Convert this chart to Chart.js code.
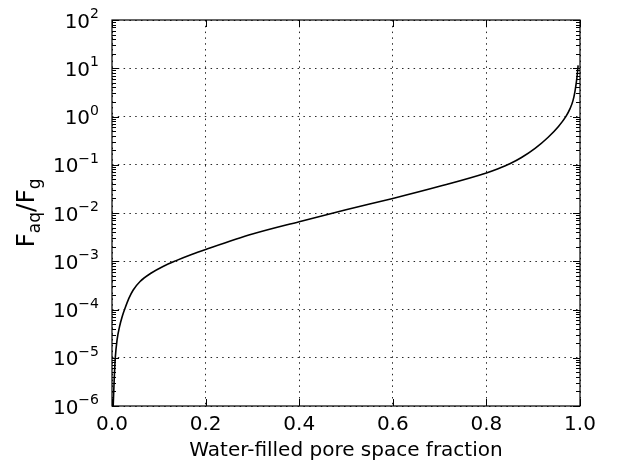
<!DOCTYPE html>
<html>
<head>
<meta charset="utf-8">
<script src="https://cdn.jsdelivr.net/npm/chart.js@4/dist/chart.umd.min.js"></script>
<style>
  html, body { margin: 0; padding: 0; background: #ffffff; }
  #wrap { width: 617px; height: 464px; }
</style>
</head>
<body>
<div id="wrap"><canvas id="c" width="617" height="464"></canvas></div>
<script>
// ---- data ----
const waterFraction = [0.0015, 0.0025, 0.0045, 0.007, 0.011, 0.016, 0.022, 0.028, 0.036, 0.045, 0.06, 0.084, 0.11, 0.137, 0.17, 0.2, 0.3, 0.4, 0.5, 0.6, 0.7, 0.8, 0.825, 0.85, 0.875, 0.904, 0.932, 0.954, 0.97, 0.979, 0.985, 0.989, 0.992, 0.994, 0.996];
const fluxRatio = [5.0e-7, 1.0e-6, 3.16e-6, 1.0e-5, 2.40e-5, 4.37e-5, 7.24e-5, 1.07e-4, 1.70e-4, 2.51e-4, 3.80e-4, 5.70e-4, 7.89e-4, 1.03e-3, 1.38e-3, 1.75e-3, 3.66e-3, 6.61e-3, 1.17e-2, 2.00e-2, 3.57e-2, 6.76e-2, 8.26e-2, 0.1045, 0.141, 0.218, 0.371, 0.621, 1.005, 1.47, 2.13, 3.21, 4.96, 7.16, 11.5];

const xTickValues = [0, 0.2, 0.4, 0.6, 0.8, 1.0];
const xTickLabels = ['0.0', '0.2', '0.4', '0.6', '0.8', '1.0'];
const yTickExponents = [-6, -5, -4, -3, -2, -1, 0, 1, 2];
const yTickBase = '10';
const xTitle = 'Water-filled pore space fraction';
const yTitleParts = [['F', false], ['aq', true], ['/', false], ['F', false], ['g', true]];

const FONT = '"DejaVu Sans", "Liberation Sans", sans-serif';

const decorations = {
  id: 'decorations',
  afterDraw(chart) {
    const ctx = chart.ctx;
    const a = chart.chartArea;
    const xs = chart.scales.x, ys = chart.scales.y;
    ctx.save();
    // frame
    ctx.strokeStyle = '#000';
    ctx.lineWidth = 1.2;
    ctx.strokeRect(a.left, a.top, a.right - a.left, a.bottom - a.top);

    // ticks (inward, all four sides)
    ctx.lineWidth = 1;
    ctx.beginPath();
    xTickValues.forEach(v => {
      const px = Math.round(xs.getPixelForValue(v)) + 0.5;
      ctx.moveTo(px, a.bottom); ctx.lineTo(px, a.bottom - 7);
      ctx.moveTo(px, a.top); ctx.lineTo(px, a.top + 7);
    });
    yTickExponents.forEach(e => {
      const py = Math.round(ys.getPixelForValue(Math.pow(10, e))) + 0.5;
      ctx.moveTo(a.left, py); ctx.lineTo(a.left + 7, py);
      ctx.moveTo(a.right, py); ctx.lineTo(a.right - 7, py);
      if (e < yTickExponents[yTickExponents.length - 1]) {
        for (let m = 2; m <= 9; m++) {
          const pm = Math.round(ys.getPixelForValue(m * Math.pow(10, e))) + 0.5;
          ctx.moveTo(a.left, pm); ctx.lineTo(a.left + 4, pm);
          ctx.moveTo(a.right, pm); ctx.lineTo(a.right - 4, pm);
        }
      }
    });
    ctx.stroke();

    ctx.fillStyle = '#000';
    // x tick labels
    ctx.font = '20px ' + FONT;
    ctx.textAlign = 'center';
    ctx.textBaseline = 'alphabetic';
    xTickValues.forEach((v, i) => {
      ctx.fillText(xTickLabels[i], xs.getPixelForValue(v), 429.5);
    });

    // y tick labels 10^e
    ctx.textAlign = 'left';
    yTickExponents.forEach(e => {
      const py = ys.getPixelForValue(Math.pow(10, e));
      const expStr = (e < 0 ? '\u2212' : '') + Math.abs(e);
      ctx.font = '20px ' + FONT;
      const wb = ctx.measureText(yTickBase).width;
      ctx.font = '14px ' + FONT;
      const we = ctx.measureText(expStr).width;
      const right = 99;
      const x0 = right - wb - we;
      ctx.font = '20px ' + FONT;
      ctx.fillText(yTickBase, x0, py + 7.5);
      ctx.font = '14px ' + FONT;
      ctx.fillText(expStr, x0 + wb, py - 2);
    });

    // x title
    ctx.font = '20px ' + FONT;
    ctx.textAlign = 'center';
    ctx.fillText(xTitle, (a.left + a.right) / 2, 456);

    // y title with subscripts, rotated
    const mainF = '25px ' + FONT, subF = '17px ' + FONT;
    let total = 0;
    const widths = yTitleParts.map(([t, sub]) => {
      ctx.font = sub ? subF : mainF;
      const w = ctx.measureText(t).width;
      total += w;
      return w;
    });
    ctx.translate(34, (a.top + a.bottom) / 2);
    ctx.rotate(-Math.PI / 2);
    ctx.textAlign = 'left';
    let cx = -total / 2;
    yTitleParts.forEach(([t, sub], i) => {
      ctx.font = sub ? subF : mainF;
      ctx.fillText(t, cx, sub ? 6 : 0);
      cx += widths[i];
    });
    ctx.restore();
  }
};

const points = waterFraction.map((x, i) => ({ x: x, y: fluxRatio[i] }));

new Chart(document.getElementById('c'), {
  type: 'line',
  data: {
    datasets: [{
      data: points,
      borderColor: '#000000',
      borderWidth: 1.6,
      pointRadius: 0,
      fill: false,
      cubicInterpolationMode: 'monotone'
    }]
  },
  options: {
    responsive: false,
    animation: false,
    devicePixelRatio: 1,
    layout: { padding: { left: 112, top: 20, right: 37, bottom: 58 } },
    plugins: { legend: { display: false }, tooltip: { enabled: false } },
    scales: {
      x: {
        type: 'linear',
        min: 0, max: 1,
        afterBuildTicks: s => { s.ticks = xTickValues.map(v => ({ value: v })); },
        afterFit: s => { s.height = 0; },
        ticks: { display: false },
        grid: { color: 'rgba(0,0,0,0.85)', lineWidth: 1, drawTicks: false },
        border: { display: false, dash: [1.5, 4.3] }
      },
      y: {
        type: 'logarithmic',
        min: 1e-6, max: 1e2,
        afterBuildTicks: s => { s.ticks = yTickExponents.map(e => ({ value: Math.pow(10, e) })); },
        afterFit: s => { s.width = 0; },
        ticks: { display: false },
        grid: { color: 'rgba(0,0,0,0.85)', lineWidth: 1, drawTicks: false },
        border: { display: false, dash: [1.5, 4.3] }
      }
    }
  },
  plugins: [decorations]
});
</script>
</body>
</html>
